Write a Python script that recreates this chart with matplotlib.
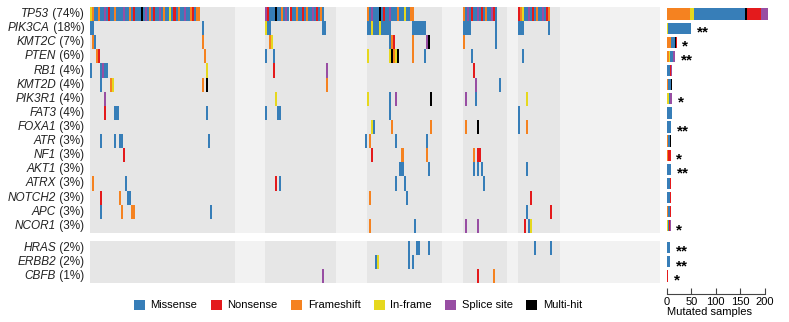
import numpy as np
import matplotlib.pyplot as plt
from matplotlib.patches import Patch

plt.rcParams['font.family'] = ['Liberation Sans', 'DejaVu Sans']

# mutation classes, in stacking order for the side bars
mut_codes = ['F', 'I', 'M', 'X', 'N', 'S']
mut_names = {'M': 'Missense', 'N': 'Nonsense', 'F': 'Frameshift',
             'I': 'In-frame', 'S': 'Splice site', 'X': 'Multi-hit'}
mut_colors = {'M': '#377eb8', 'N': '#e41a1c', 'F': '#f58220',
              'I': '#e6d81e', 'S': '#984ea3', 'X': '#000000'}
legend_order = ['M', 'N', 'F', 'I', 'S', 'X']

n_samples = 280
genes_top = ['TP53', 'PIK3CA', 'KMT2C', 'PTEN', 'RB1', 'KMT2D', 'PIK3R1', 'FAT3',
             'FOXA1', 'ATR', 'NF1', 'AKT1', 'ATRX', 'NOTCH2', 'APC', 'NCOR1']
genes_bottom = ['HRAS', 'ERBB2', 'CBFB']

# sample blocks (start, end, shade) along the x axis
bands = [(0, 71, 'd'), (71, 86, 'l'), (86, 121, 'd'), (121, 136, 'l'),
         (136, 173, 'd'), (173, 183, 'l'), (183, 205, 'd'), (205, 210, 'l'),
         (210, 231, 'd'), (231, 280, 'l')]

# per gene: runs of (first sample, one code per sample)
muts = {
    'TP53': [(0, 'IFMMFMMSMNMMFMMMSMMFMNMMMXMSMFMNMMSMFMMIMNMFMMSMMFNMFF'),
             (86, 'SNMMMXMMFMSMNMMFMMNMFMMSMNMFM'),
             (136, 'FMSMMMXMNMMSMMMFMMIMMFF'),
             (183, 'FMSMNMMSMNMFMMSNM'),
             (210, 'NFIMMSMNMFMMSMNF')],
    'PIK3CA': [(0, 'MM'), (55, 'M'), (86, 'IMM'), (114, 'MM'), (136, 'MMIMMMIMMMMM'),
               (158, 'MMMMMMM'), (183, 'MMMM'), (199, 'M'), (210, 'MMM'), (225, 'M')],
    'KMT2C': [(1, 'FM'), (55, 'F'), (88, 'FI'), (147, 'MFN'), (158, 'F'), (165, 'SX'),
              (183, 'F'), (199, 'M')],
    'PTEN': [(3, 'FN'), (56, 'F'), (86, 'M'), (90, 'M'), (136, 'I'), (147, 'IXFIX'),
             (158, 'F'), (164, 'M'), (187, 'M'), (212, 'M')],
    'RB1': [(0, 'M'), (5, 'MSMM'), (57, 'I'), (90, 'N'), (116, 'S'), (188, 'N')],
    'KMT2D': [(5, 'M'), (10, 'FI'), (55, 'F'), (57, 'X'), (116, 'F'), (189, 'S'), (201, 'M')],
    'PIK3R1': [(7, 'S'), (91, 'I'), (136, 'I'), (147, 'M'), (150, 'S'), (167, 'X'),
               (184, 'S'), (189, 'M'), (214, 'I')],
    'FAT3': [(7, 'N'), (12, 'MM'), (57, 'M'), (86, 'M'), (92, 'MM'), (147, 'M'), (210, 'M')],
    'FOXA1': [(138, 'IM'), (148, 'F'), (167, 'F'), (184, 'F'), (190, 'X'), (210, 'M'), (214, 'F')],
    'ATR': [(5, 'M'), (12, 'M'), (14, 'MM'), (58, 'M'), (135, 'M'), (137, 'F'), (150, 'M'), (165, 'M')],
    'NF1': [(16, 'N'), (138, 'N'), (153, 'F'), (165, 'F'), (188, 'F'), (190, 'NN')],
    'AKT1': [(152, 'MM'), (166, 'M'), (188, 'M'), (190, 'M'), (192, 'M'), (214, 'M')],
    'ATRX': [(1, 'F'), (17, 'M'), (91, 'N'), (93, 'M'), (150, 'M'), (154, 'M'), (193, 'M')],
    'NOTCH2': [(5, 'N'), (14, 'F'), (18, 'MM'), (137, 'F'), (155, 'M'), (216, 'N')],
    'APC': [(5, 'M'), (15, 'F'), (20, 'FF'), (59, 'M'), (214, 'M'), (226, 'N')],
    'NCOR1': [(137, 'F'), (159, 'M'), (184, 'S'), (190, 'S'), (213, 'N'), (215, 'M'), (216, 'I')],
    'HRAS': [(156, 'M'), (160, 'MM'), (166, 'M'), (218, 'M'), (226, 'M')],
    'ERBB2': [(140, 'MI'), (156, 'M'), (158, 'M')],
    'CBFB': [(114, 'S'), (190, 'N'), (198, 'F')],
}

# mutated sample counts per class (F, I, M, X, N, S)
counts = {
    'TP53': [48, 8, 104, 4, 29, 14],
    'PIK3CA': [0, 2, 48, 0, 0, 0],
    'KMT2C': [9, 0, 7, 2, 2, 0],
    'PTEN': [5, 2, 5, 1, 0, 4],
    'RB1': [0, 0, 6, 0, 2, 3],
    'KMT2D': [3, 0, 6, 2, 0, 0],
    'PIK3R1': [0, 4, 3, 0, 0, 4],
    'FAT3': [0, 0, 10, 0, 1, 0],
    'FOXA1': [1, 0, 8, 0, 0, 0],
    'ATR': [3, 0, 4, 1, 0, 0],
    'NF1': [3, 0, 0, 0, 5, 0],
    'AKT1': [0, 0, 9, 0, 0, 0],
    'ATRX': [1, 0, 6, 0, 1, 0],
    'NOTCH2': [1, 0, 5, 0, 2, 0],
    'APC': [2, 0, 5, 0, 1, 0],
    'NCOR1': [1, 1, 3, 0, 1, 2],
    'HRAS': [0, 0, 6, 0, 0, 0],
    'ERBB2': [0, 1, 5, 0, 0, 0],
    'CBFB': [1, 0, 0, 0, 2, 0],
}

stars = {'PIK3CA': '**', 'KMT2C': '*', 'PTEN': '**', 'PIK3R1': '*', 'FOXA1': '**',
         'NF1': '*', 'AKT1': '**', 'NCOR1': '*', 'HRAS': '**', 'ERBB2': '**', 'CBFB': '*'}

gap = 0.55
genes = genes_top + genes_bottom
row_top = {g: i for i, g in enumerate(genes_top)}
row_top.update({g: len(genes_top) + gap + i for i, g in enumerate(genes_bottom)})
total_h = len(genes) + gap

fig = plt.figure(figsize=(7.89, 3.22), dpi=100)
W, H = 789, 322
ax = fig.add_axes([90 / W, 1 - 283 / H, 570 / W, 276 / H])
ax2 = fig.add_axes([667 / W, 1 - 283 / H, 122 / W, 276 / H])

# shaded sample blocks, one set per gene group
shade = {'d': '#e6e6e6', 'l': '#f2f2f2'}
for y0, h in [(0, len(genes_top)), (len(genes_top) + gap, len(genes_bottom))]:
    for a, b, s in bands:
        ax.broken_barh([(a, b - a)], (y0, h), facecolors=shade[s], edgecolor='none')

# mutation cells
for code in mut_codes:
    xs, ys = [], []
    for g in genes:
        for start, run in muts[g]:
            for k, c in enumerate(run):
                if c == code:
                    xs.append(start + k)
                    ys.append(row_top[g])
    ax.bar(xs, 1, bottom=ys, width=1.0, align='edge', color=mut_colors[code],
           edgecolor='none')

ax.set_xlim(0, n_samples)
ax.set_ylim(total_h, 0)
ax.axis('off')

# row labels: italic gene name + percentage
for g in genes:
    yc = row_top[g] + 0.5
    pct = round(100 * sum(counts[g]) / n_samples)
    t = ax.text(-2.8, yc, f' ({pct}%)', ha='right', va='center', fontsize=8.5,
                color='#222222')
    ax.annotate(g, xy=(0, 0.5), xycoords=t, ha='right', va='center',
                fontsize=8.5, style='italic', color='#222222')

# stacked counts per gene
for g in genes:
    yc = row_top[g] + 0.5
    left = 0
    for code, n in zip(mut_codes, counts[g]):
        if n:
            ax2.barh(yc, n, left=left, height=0.8, color=mut_colors[code], edgecolor='none')
        left += n
    if g in stars:
        ax2.annotate(stars[g], xy=(left, yc), xytext=(4, -3), textcoords='offset points',
                     ha='left', va='center', fontsize=11, fontweight='bold')

ax2.set_xlim(0, 250)
ax2.set_ylim(total_h, 0)
for side in ['left', 'top', 'right']:
    ax2.spines[side].set_visible(False)
ax2.spines['bottom'].set_position(('outward', 8))
ax2.spines['bottom'].set_bounds(0, 200)
ax2.spines['bottom'].set_color('#444444')
ax2.set_yticks([])
ax2.set_xticks([0, 50, 100, 150, 200])
ax2.tick_params(axis='x', direction='in', length=4, labelsize=8, pad=2, color='#444444')
ax2.set_xlabel('Mutated samples', fontsize=8, loc='left', labelpad=0)

handles = [Patch(facecolor=mut_colors[c], label=mut_names[c]) for c in legend_order]
fig.legend(handles=handles, loc='center', bbox_to_anchor=(358 / W, 1 - 305 / H), ncol=6,
           frameon=False, fontsize=8, handlelength=1.0, handleheight=1.0,
           handletextpad=0.5, columnspacing=1.2)

fig.savefig('out.png', dpi=100)
